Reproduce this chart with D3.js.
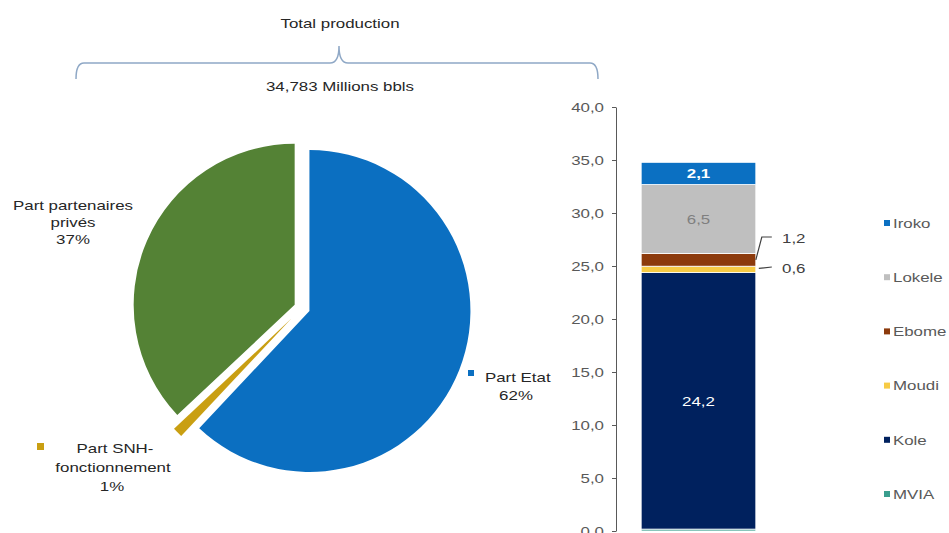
<!DOCTYPE html>
<html>
<head>
<meta charset="utf-8">
<title>Total production</title>
<script src="https://d3js.org/d3.v7.min.js"></script>
<style>
  body { margin: 0; background: #fff; }
  text { font-family: "Liberation Sans", Arial, sans-serif; }
</style>
</head>
<body>
<svg id="chart" width="949" height="533"></svg>
<script>
// pie data
var pieLabels = ["Part Etat", "Part SNH-fonctionnement", "Part partenaires privés"];
var pieValues = [62, 1, 37];
var pieColors = ["#0B6FC1", "#C99F12", "#548235"];

// stacked bar data (bottom to top)
var barFields = ["MVIA", "Kole", "Moudi", "Ebome", "Lokele", "Iroko"];
var barValues = [0.18, 24.2, 0.6, 1.2, 6.5, 2.1];
var barColors = ["#3A9E8E", "#00215E", "#F7CB45", "#8C3A0C", "#BFBFBF", "#0B70C2"];
var yTicks = [0, 5, 10, 15, 20, 25, 30, 35, 40];

// legend order (top to bottom)
var legendNames = ["Iroko", "Lokele", "Ebome", "Moudi", "Kole", "MVIA"];

var totalText = "34,783 Millions bbls";

var SX = 1.25; // the reference text is stretched wide
var svg = d3.select("#chart");

function label(x, y, str, anchor, size, color, weight) {
  return svg.append("text")
    .attr("transform", "translate(" + x + "," + y + ") scale(" + SX + ",1)")
    .attr("text-anchor", anchor || "middle")
    .attr("dy", "0.35em")
    .style("font-size", (size || 13.5) + "px")
    .style("font-weight", weight || "normal")
    .style("fill", color || "#262626")
    .text(str);
}

// ---- header bracket ----
label(340, 23, "Total production");
svg.append("path")
  .attr("d", "M76,79 Q76,63 84,63 L330,63 Q339,63 339,46 Q339,63 348,63 L590,63 Q598,63 598,79")
  .style("fill", "none")
  .style("stroke", "#8FA8C6")
  .style("stroke-width", 1.5);
label(340, 86, totalText);

// ---- pie ----
var cx = 302, cy = 308, radius = 161;
var pie = d3.pie().sort(null).value(function(d) { return d; });
var arc = d3.arc().innerRadius(0).outerRadius(radius);
var explode = [8, 15, 8];

var slices = svg.append("g").attr("transform", "translate(" + cx + "," + cy + ")");
slices.selectAll("path")
  .data(pie(pieValues))
  .enter().append("path")
  .attr("d", arc)
  .attr("transform", function(d, i) {
    var a = (d.startAngle + d.endAngle) / 2;
    return "translate(" + (Math.sin(a) * explode[i]) + "," + (-Math.cos(a) * explode[i]) + ")";
  })
  .style("fill", function(d, i) { return pieColors[i]; });

// pie labels
svg.append("rect").attr("x", 468).attr("y", 370).attr("width", 6).attr("height", 6).style("fill", pieColors[0]);
label(485, 377, "Part Etat", "start");
label(516, 395, pieValues[0] + "%");

svg.append("rect").attr("x", 37).attr("y", 443).attr("width", 7).attr("height", 7).style("fill", pieColors[1]);
label(115, 448, "Part SNH-");
label(113, 467, "fonctionnement");
label(112, 486, pieValues[1] + "%");

label(73, 205, "Part partenaires");
label(73, 222, "privés");
label(73, 239, pieValues[2] + "%");

// ---- stacked bar ----
var y = d3.scaleLinear().domain([0, 40]).range([531, 107]);
var x = d3.scaleBand().domain(["prod"]).range([628, 769]).paddingInner(0).paddingOuter(0.115);

var row = {};
barFields.forEach(function(f, i) { row[f] = barValues[i]; });
var stack = d3.stack().keys(barFields)([row]);

var fmt = function(v) { return d3.format(".1f")(v).replace(".", ","); };

var yAxis = d3.axisLeft(y).tickValues(yTicks).tickSize(4).tickSizeOuter(0).tickFormat(fmt);
var ax = svg.append("g").attr("transform", "translate(616,0)").call(yAxis);
ax.select(".domain").style("stroke", "#595959");
ax.selectAll(".tick line").style("stroke", "#595959");
ax.selectAll(".tick text")
  .attr("x", null)
  .attr("transform", "translate(-12,0) scale(" + SX + ",1)")
  .style("font-size", "13.5px")
  .style("fill", "#595959");

svg.append("g").selectAll("rect")
  .data(stack)
  .enter().append("rect")
  .attr("x", x("prod"))
  .attr("width", x.bandwidth())
  .attr("y", function(s) { return y(s[0][1]); })
  .attr("height", function(s) { return y(s[0][0]) - y(s[0][1]); })
  .style("fill", function(s, i) { return barColors[i]; })
  .style("stroke", "#fff")
  .style("stroke-width", 0.8);

var mid = function(i) { return y((stack[i][0][0] + stack[i][0][1]) / 2); };
var bx = x("prod") + x.bandwidth() / 2;
label(bx, mid(5), fmt(barValues[5]), "middle", 13.5, "#ffffff", "bold");
label(bx, mid(4), fmt(barValues[4]), "middle", 13.5, "#7F7F7F");
label(bx, mid(1), fmt(barValues[1]), "middle", 13.5, "#ffffff");

// callouts for thin segments
var right = x("prod") + x.bandwidth();
svg.append("path")
  .attr("d", "M" + right + "," + mid(3) + " L" + (right + 6) + "," + 237 + " L" + (right + 16) + "," + 237)
  .style("fill", "none").style("stroke", "#404040").style("stroke-width", 1.2);
svg.append("path")
  .attr("d", "M" + (right + 3) + "," + (mid(2) - 1) + " L" + (right + 16) + "," + 267)
  .style("fill", "none").style("stroke", "#404040").style("stroke-width", 1.2);
label(782, 238, fmt(barValues[3]), "start", 13.5, "#404040");
label(782, 268, fmt(barValues[2]), "start", 13.5, "#404040");

// ---- legend ----
var ly = d3.scalePoint().domain(legendNames).range([223, 494]);
var leg = svg.append("g").selectAll("g")
  .data(legendNames)
  .enter().append("g");
leg.append("rect")
  .attr("x", 884)
  .attr("y", function(d) { return ly(d) - 3; })
  .attr("width", 6).attr("height", 6)
  .style("fill", function(d) { return barColors[barFields.indexOf(d)]; });
leg.each(function(d) {
  label(893, ly(d), d, "start", 13.5, "#595959");
});
</script>
</body>
</html>
